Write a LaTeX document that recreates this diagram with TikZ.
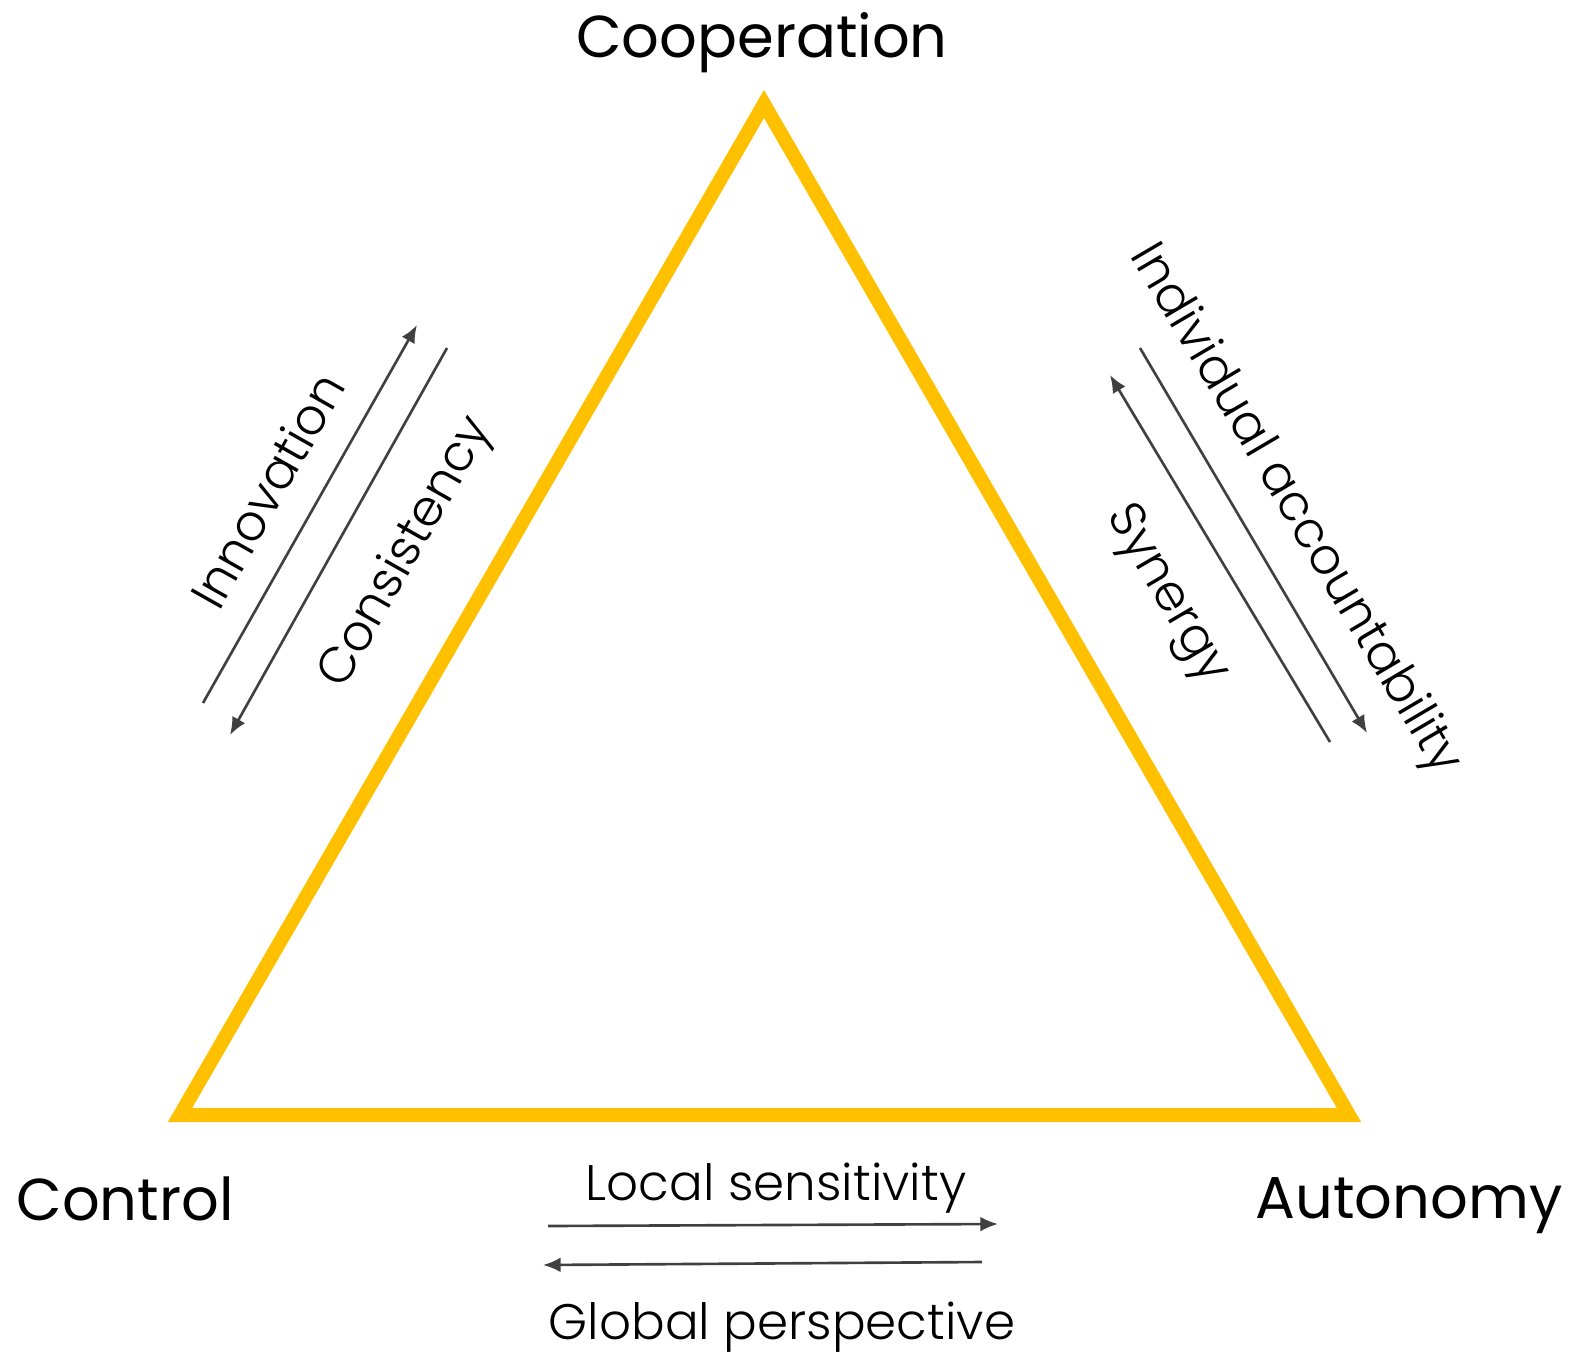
\documentclass[tikz,border=0pt]{standalone}
\usepackage{fontspec}
\setmainfont{Poppins}
\newfontfamily\thinfont{Poppins Light}
\usepackage{tikz}
\usetikzlibrary{arrows.meta}
\definecolor{triyellow}{HTML}{FFC000}
\definecolor{arrowgray}{HTML}{404040}

\begin{document}
\begin{tikzpicture}[x=0.01cm, y=-0.01cm,
    corner/.style={font=\fontsize{16.8}{20}\selectfont, anchor=base},
    sidelabel/.style={font=\thinfont\fontsize{14.2}{17}\selectfont},
    flow/.style={draw=arrowgray, line width=0.75pt, -{Latex[length=5pt, width=4.2pt]}},
    ]
    \useasboundingbox (0,0) rectangle (1575,1366);

    % triangle
    \coordinate (top) at (764,104);
    \coordinate (left) at (180,1115);
    \coordinate (right) at (1349,1115);
    \draw[triyellow, line width=0.14cm, miter limit=10] (top) -- (left) -- (right) -- cycle;

    \node[corner] (coop) at (762,57) {Cooperation};
    \node[corner] (ctrl) at (125,1220) {Control};
    \node[corner] (auto) at (1409,1218) {Autonomy};

    % left side
    \coordinate (innoA) at (203,703);
    \coordinate (innoB) at (417,325);
    \coordinate (consA) at (447,348);
    \coordinate (consB) at (230,735);
    \draw[flow] (innoA) -- (innoB);
    \draw[flow] (consA) -- (consB);
    \node[sidelabel, rotate=60.5] (inno) at (267,490) {Innovation};
    \node[sidelabel, rotate=60.5] (cons) at (407,553) {Consistency};

    % right side
    \coordinate (indA) at (1140,348);
    \coordinate (indB) at (1367,733);
    \coordinate (synA) at (1330,742);
    \coordinate (synB) at (1110,375);
    \draw[flow] (indA) -- (indB);
    \draw[flow] (synA) -- (synB);
    \node[sidelabel, rotate=-59.5] (ind) at (1294,510) {Individual accountability};
    \node[sidelabel, rotate=-59.5] (syn) at (1166,595) {Synergy};

    % bottom
    \coordinate (locA) at (548,1226);
    \coordinate (locB) at (998,1224);
    \coordinate (gloA) at (982,1262);
    \coordinate (gloB) at (543,1265);
    \draw[flow] (locA) -- (locB);
    \draw[flow] (gloA) -- (gloB);
    \node[sidelabel, anchor=base] (loc) at (776,1200) {Local sensitivity};
    \node[sidelabel, anchor=base] (glo) at (782,1339) {Global perspective};
\end{tikzpicture}
\end{document}
